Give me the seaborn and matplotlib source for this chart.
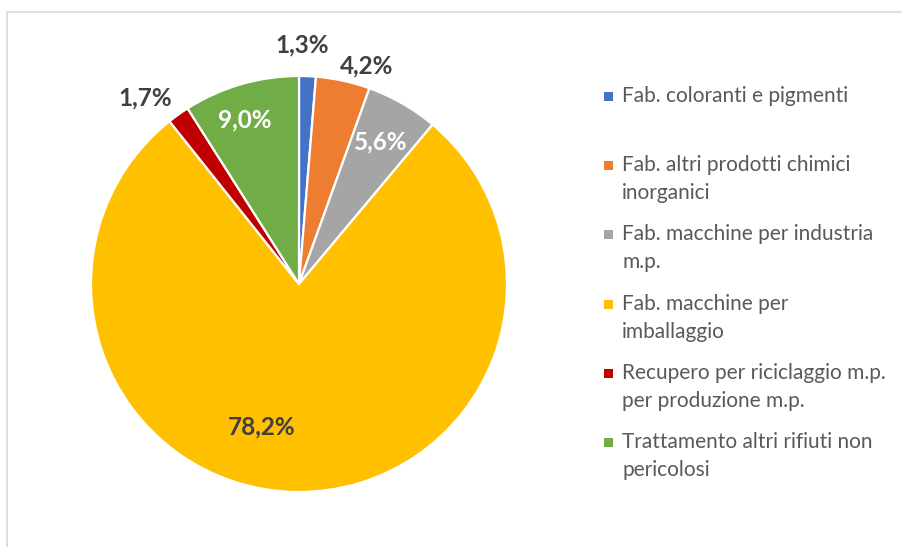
import numpy as np
import matplotlib
matplotlib.use("Agg")
import matplotlib.pyplot as plt
import seaborn as sns
from matplotlib.patches import Rectangle

sns.set_theme(style="white")
plt.rcParams["font.family"] = ["Lato", "DejaVu Sans"]

categories = [
    "Fab. coloranti e pigmenti",
    "Fab. altri prodotti chimici\ninorganici",
    "Fab. macchine per industria\nm.p.",
    "Fab. macchine per\nimballaggio",
    "Recupero per riciclaggio m.p.\nper produzione m.p.",
    "Trattamento altri rifiuti non\npericolosi",
]
shares = [1.3, 4.2, 5.6, 78.2, 1.7, 9.0]
value_labels = ["1,3%", "4,2%", "5,6%", "78,2%", "1,7%", "9,0%"]
colors = ["#4472C4", "#ED7D31", "#A5A5A5", "#FFC000", "#C00000", "#70AD47"]

# label placement per slice: radial distance, angular nudge (deg), text colour
label_radius = [1.15, 1.10, 0.79, 0.71, 1.16, 0.83]
label_nudge = [1.5, -5, 0, -14, 4, 2]
label_color = ["#404040", "#404040", "white", "#404040", "#404040", "white"]

W, H = 903, 547
fig = plt.figure(figsize=(W / 100, H / 100), dpi=100)
fig.patch.set_facecolor("white")

# thin frame around the chart area
fig.add_artist(Rectangle((7 / W, -0.02), 1.0, (H - 12) / H + 0.02,
                         transform=fig.transFigure, fill=False,
                         edgecolor="#D9D9D9", linewidth=1.2))

cx, cy, R = 299, 284, 208
ax = fig.add_axes([(cx - R) / W, (H - cy - R) / H, 2 * R / W, 2 * R / H])
wedges, _ = ax.pie(shares, colors=colors, startangle=90, counterclock=False,
                   radius=1.0,
                   wedgeprops=dict(edgecolor="white", linewidth=1.6))
ax.set_xlim(-1, 1)
ax.set_ylim(-1, 1)
ax.axis("off")

for w, txt, r, nudge, col in zip(wedges, value_labels, label_radius,
                                  label_nudge, label_color):
    ang = np.deg2rad((w.theta1 + w.theta2) / 2 + nudge)
    ax.text(r * np.cos(ang), r * np.sin(ang), txt, ha="center", va="center",
            fontsize=17.5, fontweight="bold", color=col, clip_on=False)

# legend: one fixed-height slot per category, lines placed individually
slot = 69.2
line_gap = 28
y0 = 102  # baseline of the first entry, in pixels from the top
for i, (name, col) in enumerate(zip(categories, colors)):
    y = y0 + i * slot
    fig.add_artist(Rectangle((604 / W, (H - y + 1) / H), 9 / W, 9 / H,
                             transform=fig.transFigure, facecolor=col,
                             edgecolor="none"))
    for k, line in enumerate(name.split("\n")):
        fig.text(622 / W, (H - y - k * line_gap) / H, line, ha="left",
                 va="baseline", fontsize=15, color="#595959",
                 transform=fig.transFigure)

fig.savefig("out.png", dpi=100, facecolor="white")
